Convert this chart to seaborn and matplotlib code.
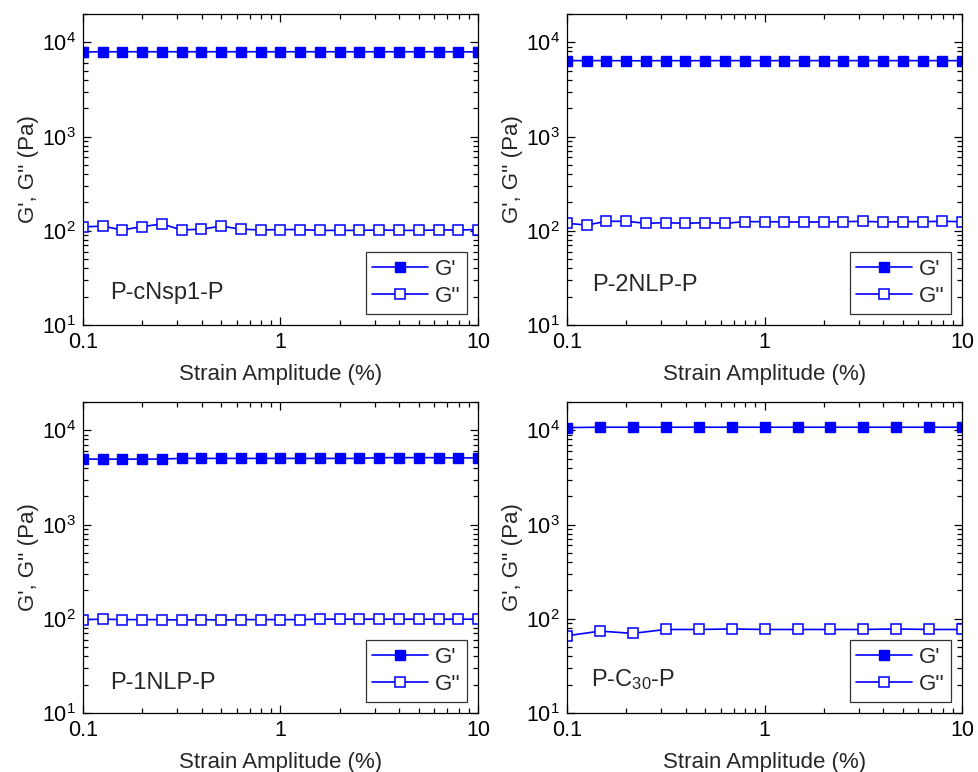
import numpy as np
import pandas as pd
import matplotlib
matplotlib.use('Agg')
import matplotlib.pyplot as plt
import matplotlib.ticker as mticker
import seaborn as sns

# strain amplitude (%) for the 10 pts/decade sweeps
strain = [0.1, 0.126, 0.158, 0.2, 0.251, 0.316, 0.398, 0.501, 0.631, 0.794, 1.0,
          1.26, 1.58, 2.0, 2.51, 3.16, 3.98, 5.01, 6.31, 7.94, 10.0]
# strain amplitude (%) for the 6 pts/decade sweep (P-C30-P)
strain_c30 = [0.1, 0.147, 0.215, 0.316, 0.464, 0.681, 1.0, 1.47, 2.15, 3.16, 4.64, 6.81, 10.0]

# P-cNsp1-P
g1_storage = [7900, 7950, 7950, 7950, 7950, 7950, 7950, 7950, 7950, 7950, 7950,
              7950, 7950, 7950, 7950, 7950, 7950, 7950, 7950, 7950, 7900]
g1_loss = [110, 112, 102, 111, 118, 102, 104, 112, 104, 102, 103,
           103, 101, 101, 101, 102, 101, 101, 102, 102, 103]

# P-2NLP-P
g2_storage = [6400, 6400, 6400, 6380, 6380, 6400, 6380, 6400, 6400, 6400, 6400,
              6400, 6400, 6400, 6400, 6400, 6400, 6400, 6400, 6400, 6400]
g2_loss = [120, 115, 126, 126, 120, 122, 120, 122, 120, 125, 125,
           124, 124, 124, 125, 126, 124, 125, 125, 126, 125]

# P-1NLP-P
g3_storage = [4960, 4950, 4950, 4950, 4960, 5040, 5040, 5040, 5040, 5040, 5040,
              5040, 5040, 5040, 5040, 5130, 5130, 5130, 5130, 5100, 5100]
g3_loss = [98, 99, 98, 98, 98, 97, 98, 97, 98, 98, 98,
           98, 99, 99, 99, 99, 99, 99, 99, 99, 99]

# P-C30-P
g4_storage = [10700, 10800, 10800, 10800, 10800, 10800, 10800, 10800, 10800, 10800,
              10800, 10800, 10800]
g4_loss = [66, 74, 70, 77, 77, 78, 77, 77, 77, 77, 78, 77, 77]

samples = ['P-cNsp1-P', 'P-2NLP-P', 'P-1NLP-P', 'P-C$_{30}$-P']
x_sets = [strain, strain, strain, strain_c30]
storage_sets = [g1_storage, g2_storage, g3_storage, g4_storage]
loss_sets = [g1_loss, g2_loss, g3_loss, g4_loss]

sns.set_style('ticks')
plt.rcParams['font.family'] = ['Liberation Sans', 'DejaVu Sans']
plt.rcParams['mathtext.fontset'] = 'custom'
plt.rcParams['mathtext.rm'] = 'Liberation Sans'
plt.rcParams['mathtext.it'] = 'Liberation Sans:italic'
plt.rcParams['mathtext.bf'] = 'Liberation Sans:bold'

fig = plt.figure(figsize=(9.79, 7.72), dpi=100)
W, H = 979, 772
# axes boxes in pixels: left, top, right, bottom
boxes = [(83, 14, 478, 325), (567, 14, 962, 325),
         (83, 402, 478, 713), (567, 402, 962, 713)]
label_pos = [(0.068, 0.103), (0.063, 0.129), (0.068, 0.096), (0.06, 0.106)]

blue = '#0000ff'
for i in range(4):
    l, t, r, b = boxes[i]
    ax = fig.add_axes([l / W, (H - b) / H, (r - l) / W, (b - t) / H])
    df = pd.DataFrame({'strain': x_sets[i], 'Gp': storage_sets[i], 'Gpp': loss_sets[i]})
    sns.lineplot(data=df, x='strain', y='Gp', ax=ax, color=blue, lw=1.2,
                 marker='s', markersize=7, markerfacecolor=blue,
                 markeredgecolor=blue, markeredgewidth=1, label="G'")
    sns.lineplot(data=df, x='strain', y='Gpp', ax=ax, color=blue, lw=1.2,
                 marker='s', markersize=7, markerfacecolor='white',
                 markeredgecolor=blue, markeredgewidth=1.1, label="G''")
    ax.set_xscale('log')
    ax.set_yscale('log')
    ax.set_xlim(0.1, 10)
    ax.set_ylim(10, 2e4)
    ax.xaxis.set_major_locator(mticker.FixedLocator([0.1, 1, 10]))
    ax.xaxis.set_major_formatter(mticker.FixedFormatter(['0.1', '1', '10']))
    ax.xaxis.set_minor_locator(mticker.LogLocator(base=10, subs=np.arange(2, 10)))
    ax.xaxis.set_minor_formatter(mticker.NullFormatter())
    ax.yaxis.set_major_locator(mticker.FixedLocator([10, 100, 1000, 10000]))
    ax.yaxis.set_major_formatter(mticker.FixedFormatter(
        ['$10^{1}$', '$10^{2}$', '$10^{3}$', '$10^{4}$']))
    ax.yaxis.set_minor_locator(mticker.LogLocator(base=10, subs=np.arange(2, 10)))
    ax.yaxis.set_minor_formatter(mticker.NullFormatter())
    ax.tick_params(which='both', direction='in', top=True, right=True,
                   colors='black', labelsize=15.5, width=0.9)
    ax.tick_params(which='major', length=6, pad=5)
    ax.tick_params(which='minor', length=3.5)
    for sp in ax.spines.values():
        sp.set_visible(True)
        sp.set_color('black')
        sp.set_linewidth(0.9)
    ax.set_xlabel('Strain Amplitude (%)', fontsize=16, labelpad=8)
    ax.set_ylabel("G', G'' (Pa)", fontsize=16, labelpad=2)
    ax.text(label_pos[i][0], label_pos[i][1], samples[i], transform=ax.transAxes,
            fontsize=17, va='center', ha='left')
    leg = ax.legend(loc='lower right', fontsize=16, frameon=True, fancybox=False,
                    handlelength=2.5, handletextpad=0.3, labelspacing=0.3,
                    borderpad=0.3, borderaxespad=0.5)
    leg.get_frame().set_edgecolor('black')
    leg.get_frame().set_linewidth(0.9)

fig.savefig('out.png', dpi=100)
